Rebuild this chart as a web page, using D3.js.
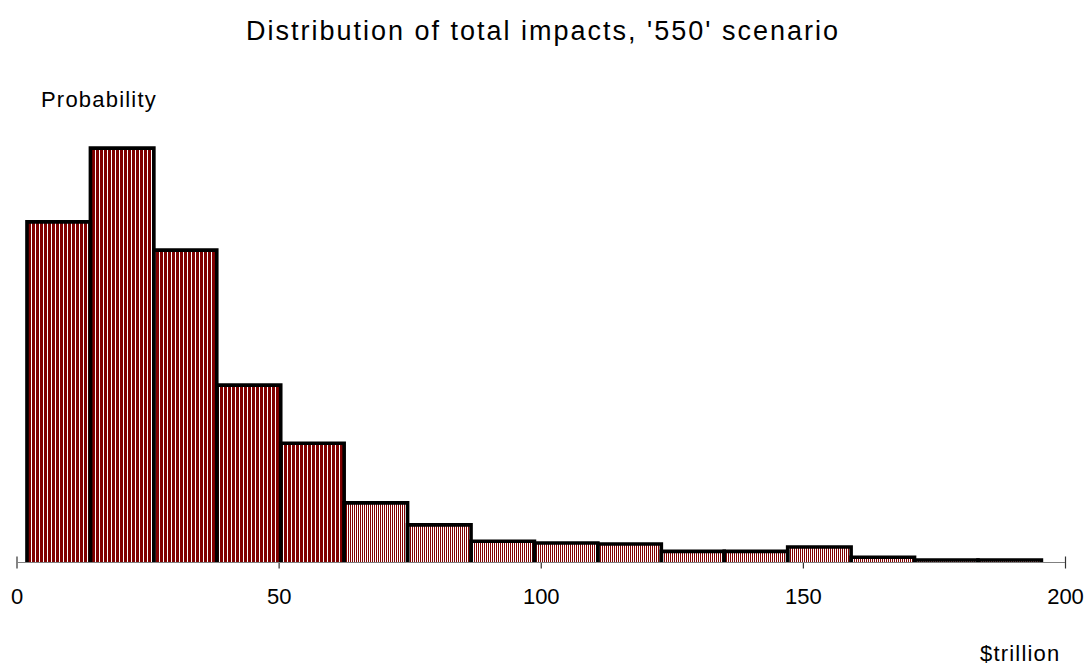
<!DOCTYPE html>
<html>
<head>
<meta charset="utf-8">
<script src="https://cdn.jsdelivr.net/npm/d3@7"></script>
<style>
  html, body { margin: 0; padding: 0; background: #fff; }
  svg { display: block; font-family: "Liberation Sans", Arial, sans-serif; }
</style>
</head>
<body>
<svg id="chart" width="1087" height="666"></svg>
<script>
// Histogram bins ($trillion): lower and upper edge of each bin
const binLower = [2.0, 14.1, 26.2, 38.2, 50.4, 62.5, 74.6, 86.7, 98.8, 110.9, 123.0, 135.0, 147.1, 159.2, 171.3, 183.4];
const binUpper = [14.1, 26.2, 38.2, 50.4, 62.5, 74.6, 86.7, 98.8, 110.9, 123.0, 135.0, 147.1, 159.2, 171.3, 183.4, 195.5];
// Probability of each bin
const probability = [0.217, 0.264, 0.199, 0.113, 0.076, 0.038, 0.024, 0.0135, 0.0124, 0.0118, 0.0071, 0.0071, 0.0099, 0.0033, 0.0016, 0.0016];
// Axis tick values
const xTicks = [0, 50, 100, 150, 200];

const titleText = "Distribution of total impacts, '550' scenario";
const yLabel = "Probability";
const xLabel = "$trillion";

const svg = d3.select("#chart");

const x = d3.scaleLinear().domain([0, 200]).range([16.5, 1065]);
const y = d3.scaleLinear().domain([0, 0.30]).range([562.5, 91.6]);

// Stripe fills: coarse stripes for the first bins, fine stripes for the tail
const defs = svg.append("defs");
function stripe(id, period, redW) {
  const p = defs.append("pattern")
    .attr("id", id)
    .attr("patternUnits", "userSpaceOnUse")
    .attr("width", period).attr("height", 10);
  p.append("rect").attr("width", period).attr("height", 10).attr("fill", "#ffffff");
  p.append("rect").attr("width", redW).attr("height", 10).attr("fill", "#800000");
}
stripe("coarse", 4, 3);
stripe("fine", 2, 1);
const coarseCount = 5;

// Axis with ticks crossing the line
const axis = svg.append("g")
  .attr("transform", `translate(0,${y(0)})`)
  .call(d3.axisBottom(x).tickValues(xTicks).tickSize(6).tickPadding(20).tickFormat(d3.format("d")));
axis.select(".domain").remove();
axis.selectAll(".tick line").attr("y1", -6).attr("y2", 6).attr("stroke", "#333").attr("stroke-width", 1.2);
axis.selectAll(".tick text")
  .attr("font-size", 22).attr("fill", "#000")
  .attr("font-family", "'Liberation Sans', Arial, sans-serif");

// Bars
const bars = svg.append("g");
probability.forEach((p, i) => {
  const x0 = x(binLower[i]), x1 = x(binUpper[i]), yt = y(p), yb = y(0);
  bars.append("rect")
    .attr("x", x0).attr("y", yt)
    .attr("width", x1 - x0).attr("height", yb - yt)
    .attr("fill", i < coarseCount ? "url(#coarse)" : "url(#fine)");
});
probability.forEach((p, i) => {
  const x0 = x(binLower[i]), x1 = x(binUpper[i]), yt = y(p), yb = y(0);
  bars.append("path")
    .attr("d", `M${x0},${yb}V${yt}H${x1}V${yb}`)
    .attr("fill", "none").attr("stroke", "#000").attr("stroke-width", 3.6)
    .attr("stroke-linejoin", "miter");
});

// Baseline drawn over the bars
svg.append("line")
  .attr("x1", x(0)).attr("x2", x(200))
  .attr("y1", y(0)).attr("y2", y(0))
  .attr("stroke", "#808080").attr("stroke-width", 1.2);

// Texts
svg.append("text")
  .attr("x", 543).attr("y", 40)
  .attr("text-anchor", "middle")
  .attr("font-size", 27).attr("letter-spacing", 2)
  .text(titleText);

svg.append("text")
  .attr("x", 41).attr("y", 107.3)
  .attr("font-size", 22).attr("letter-spacing", 1.2)
  .text(yLabel);

svg.append("text")
  .attr("x", 980).attr("y", 660.5)
  .attr("font-size", 22).attr("letter-spacing", 1.2)
  .text(xLabel);
</script>
</body>
</html>
